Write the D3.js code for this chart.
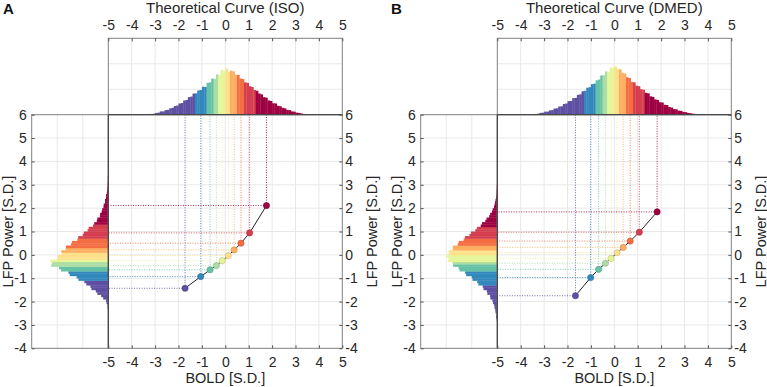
<!DOCTYPE html>
<html lang="en">
<head>
<meta charset="utf-8">
<script src="https://d3js.org/d3.v7.min.js"></script>
<style>
  body { margin: 0; background: #fff; }
  svg { font-family: "Liberation Sans", Arial, sans-serif; }
  .tick text { font-size: 14px; fill: #262626; }
  .axis path.domain { display: none; }
  .axis line { stroke: #555; }
</style>
</head>
<body>
<script>
// tick labels
var xTicks = [-5, -4, -3, -2, -1, 0, 1, 2, 3, 4, 5];
var yTicks = [-4, -3, -2, -1, 0, 1, 2, 3, 4, 5, 6];

// decile colours (low -> high)
var decileColors = ["#5e4fa2", "#3288bd", "#66c2a5", "#abdda4", "#e6f598",
                    "#fee08b", "#fdae61", "#f46d43", "#d53e4f", "#9e0142"];

// decile boundaries of the theoretical curve (top histograms)
var topBounds = [-1.28, -0.84, -0.52, -0.25, 0, 0.25, 0.52, 0.84, 1.28];
// decile boundaries of LFP power (left histograms)
var leftBoundsA = [-1.07, -0.72, -0.50, -0.33, -0.15, 0.07, 0.28, 0.71, 1.31];
var leftBoundsB = [-1.25, -0.72, -0.43, -0.25, -0.03, 0.21, 0.45, 0.71, 1.24];

// histogram bins: first bin centre, bin width 0.1
var binWidth = 0.1;
var topStart = -3.45;   // both top histograms
var leftStartA = -2.45;
var leftStartB = -2.95;

// top histogram heights, panel A (ISO)
var topHistA = [0.01,0.01,0.03,0.02,0.04,0.07,0.08,0.13,0.13,0.18,0.19,0.25,0.27,0.34,0.36,0.44,0.46,0.56,0.58,0.69,
  0.71,0.83,0.84,0.95,0.97,1.10,1.09,1.25,1.27,1.42,1.40,1.58,1.55,1.76,1.72,
  1.81,1.68,1.73,1.70,1.57,1.56,1.42,1.40,1.27,1.25,1.12,1.09,0.97,0.94,0.83,0.80,0.69,0.67,0.56,0.54,
  0.45,0.44,0.35,0.33,0.27,0.25,0.19,0.18,0.13,0.12,0.08,0.07,0.05,0.03,0.02];

// top histogram heights, panel B (DMED)
var topHistB = [0.01,0.03,0.04,0.07,0.08,0.12,0.12,0.17,0.18,0.24,0.25,0.32,0.33,0.42,0.44,0.53,0.54,0.65,0.66,0.78,
  0.80,0.92,0.94,1.06,1.08,1.20,1.22,1.35,1.38,1.54,1.55,1.70,1.69,1.85,1.84,
  1.90,1.79,1.78,1.64,1.62,1.47,1.44,1.29,1.27,1.14,1.12,1.00,0.98,0.86,0.84,0.72,0.70,0.60,0.58,0.49,
  0.48,0.39,0.38,0.30,0.28,0.22,0.21,0.16,0.15,0.11,0.10,0.07,0.06,0.04,0.03];

// left histogram lengths, panel A
var leftHistA = [0.00,0.01,0.03,0.03,0.07,0.09,0.20,0.28,0.43,0.49,0.66,0.70,0.86,0.94,1.17,1.24,1.51,1.56,1.85,1.93,
  2.24,2.20,2.26,1.98,1.97,1.82,1.84,1.67,1.66,1.46,1.42,1.21,1.18,1.00,0.96,0.81,0.77,0.60,0.55,0.45,
  0.43,0.33,0.32,0.26,0.24,0.19,0.18,0.13,0.13,0.09,0.09,0.06,0.05,0.04,0.03,0.03,0.02,0.02,0.02,0.01,
  0.01,0.01,0.01,0.01,0.00];

// left histogram lengths, panel B
var leftHistB = [0.01,0.01,0.03,0.05,0.04,0.07,0.08,0.11,0.12,0.17,0.19,0.27,0.28,0.39,0.41,0.54,0.57,0.74,0.79,0.97,
  1.00,1.22,1.26,1.48,1.52,1.73,1.75,1.93,1.90,1.99,1.89,1.91,1.74,1.74,1.55,1.51,1.32,1.27,1.09,1.03,
  0.86,0.80,0.65,0.60,0.47,0.42,0.32,0.28,0.21,0.18,0.13,0.11,0.09,0.07,0.05,0.04,0.03,0.03,0.02,0.02,
  0.01,0.01,0.01];

// decile means: BOLD (x) vs LFP power (y)
var boldA = [-1.72, -1.05, -0.65, -0.38, -0.13, 0.13, 0.38, 0.67, 1.04, 1.76];
var lfpA  = [-1.43, -0.93, -0.64, -0.46, -0.25, -0.03, 0.21, 0.50, 0.94, 2.11];
var boldB = [-1.66, -1.01, -0.67, -0.38, -0.14, 0.12, 0.38, 0.68, 1.07, 1.83];
var lfpB  = [-1.75, -0.97, -0.62, -0.36, -0.15, 0.09, 0.32, 0.59, 0.97, 1.84];

var w = 767, h = 387;

var svg = d3.select("body").append("svg")
    .attr("width", w)
    .attr("height", h);

// plain hyphen for negatives, like the original
var fmt = function(d) { return String(d); };

function drawPanel(offset, letter, title, topHist, leftHist, leftStart, leftBounds, xs, ys) {
    var g = svg.append("g").attr("transform", "translate(" + offset + ",0)");

    //Scales
    var xScale = d3.scaleLinear().domain([-5, 5]).range([108.3, 342.3]);
    var yScale = d3.scaleLinear().domain([-4, 6]).range([348.3, 114.7]);
    var topY = d3.scaleLinear().domain([0, 3]).range([114.7, 38.3]);
    var leftX = d3.scaleLinear().domain([0, 3]).range([108.3, 31.7]);

    var topColor = d3.scaleThreshold().domain(topBounds).range(decileColors);
    var leftColor = d3.scaleThreshold().domain(leftBounds).range(decileColors);

    var grid = g.append("g").attr("stroke", "#e8e8e8").attr("stroke-width", 1);

    // grids
    xTicks.slice(1, -1).forEach(function(t) {
        grid.append("line").attr("x1", xScale(t)).attr("x2", xScale(t))
            .attr("y1", yScale(6)).attr("y2", yScale(-4));
        grid.append("line").attr("x1", xScale(t)).attr("x2", xScale(t))
            .attr("y1", topY(3)).attr("y2", topY(0));
    });
    yTicks.slice(1, -1).forEach(function(t) {
        grid.append("line").attr("x1", xScale(-5)).attr("x2", xScale(5))
            .attr("y1", yScale(t)).attr("y2", yScale(t));
        grid.append("line").attr("x1", leftX(3)).attr("x2", leftX(0))
            .attr("y1", yScale(t)).attr("y2", yScale(t));
    });
    [1, 2].forEach(function(t) {
        grid.append("line").attr("x1", xScale(-5)).attr("x2", xScale(5))
            .attr("y1", topY(t)).attr("y2", topY(t));
        grid.append("line").attr("x1", leftX(t)).attr("x2", leftX(t))
            .attr("y1", yScale(6)).attr("y2", yScale(-4));
    });

    // top histogram
    g.append("g").selectAll("rect")
        .data(topHist)
        .enter()
        .append("rect")
        .attr("x", function(d, i) { return xScale(topStart + i * binWidth - binWidth / 2); })
        .attr("width", xScale(binWidth) - xScale(0) + 0.3)
        .attr("y", function(d) { return topY(d); })
        .attr("height", function(d) { return topY(0) - topY(d); })
        .attr("fill", function(d, i) { return topColor(topStart + i * binWidth); });

    // left histogram
    g.append("g").selectAll("rect")
        .data(leftHist)
        .enter()
        .append("rect")
        .attr("y", function(d, i) { return yScale(leftStart + i * binWidth + binWidth / 2); })
        .attr("height", yScale(0) - yScale(binWidth) + 0.3)
        .attr("x", function(d) { return leftX(d); })
        .attr("width", function(d) { return leftX(0) - leftX(d); })
        .attr("fill", function(d, i) { return leftColor(leftStart + i * binWidth); });

    var pts = xs.map(function(x, i) { return { x: x, y: ys[i], c: decileColors[i] }; });

    // dotted guide lines
    var guides = g.append("g").attr("stroke-width", 1).attr("stroke-dasharray", "1,1.5").attr("opacity", 0.85);
    guides.selectAll(".v").data(pts).enter().append("line")
        .attr("x1", function(d) { return xScale(d.x); })
        .attr("x2", function(d) { return xScale(d.x); })
        .attr("y1", function(d) { return yScale(d.y); })
        .attr("y2", yScale(6))
        .attr("stroke", function(d) { return d.c; });
    guides.selectAll(".h").data(pts).enter().append("line")
        .attr("y1", function(d) { return yScale(d.y); })
        .attr("y2", function(d) { return yScale(d.y); })
        .attr("x1", function(d) { return xScale(d.x); })
        .attr("x2", xScale(-5))
        .attr("stroke", function(d) { return d.c; });

    // boxes
    var box = g.append("g").attr("fill", "none").attr("stroke", "#808080").attr("stroke-width", 1);
    box.append("rect").attr("x", xScale(-5)).attr("y", topY(3))
        .attr("width", xScale(5) - xScale(-5)).attr("height", topY(0) - topY(3));
    box.append("rect").attr("x", leftX(3)).attr("y", yScale(6))
        .attr("width", leftX(0) - leftX(3)).attr("height", yScale(-4) - yScale(6));
    box.append("rect").attr("x", xScale(-5)).attr("y", yScale(6))
        .attr("width", xScale(5) - xScale(-5)).attr("height", yScale(-4) - yScale(6));
    // shared edges, drawn twice in the original
    box.append("line").attr("x1", xScale(-5)).attr("x2", xScale(-5))
        .attr("y1", topY(0)).attr("y2", yScale(-4)).attr("stroke", "#3a3a3a");
    box.append("line").attr("x1", xScale(-5)).attr("x2", xScale(5))
        .attr("y1", topY(0)).attr("y2", topY(0)).attr("stroke", "#3a3a3a");

    // connecting line and dots
    var line = d3.line()
        .x(function(d) { return xScale(d.x); })
        .y(function(d) { return yScale(d.y); });
    g.append("path").datum(pts)
        .attr("d", line)
        .attr("fill", "none")
        .attr("stroke", "#222")
        .attr("stroke-width", 1);
    g.append("g").selectAll("circle").data(pts).enter().append("circle")
        .attr("cx", function(d) { return xScale(d.x); })
        .attr("cy", function(d) { return yScale(d.y); })
        .attr("r", 3.1)
        .attr("fill", function(d) { return d.c; })
        .attr("stroke", function(d) { return d3.color(d.c).darker(0.6); })
        .attr("stroke-width", 0.6);

    //Axes
    g.append("g").attr("class", "axis")
        .attr("transform", "translate(0," + yScale(-4) + ")")
        .call(d3.axisBottom(xScale).tickValues(xTicks).tickFormat(fmt).tickSizeInner(-3).tickSizeOuter(0).tickPadding(9));
    g.append("g").attr("class", "axis")
        .attr("transform", "translate(0," + topY(3) + ")")
        .call(d3.axisTop(xScale).tickValues(xTicks).tickFormat(fmt).tickSizeInner(-3).tickSizeOuter(0).tickPadding(8));
    g.append("g").attr("class", "axis")
        .attr("transform", "translate(" + xScale(5) + ",0)")
        .call(d3.axisRight(yScale).tickValues(yTicks).tickFormat(fmt).tickSizeInner(-3).tickSizeOuter(0).tickPadding(3));
    g.append("g").attr("class", "axis")
        .attr("transform", "translate(" + leftX(3) + ",0)")
        .call(d3.axisLeft(yScale).tickValues(yTicks).tickFormat(fmt).tickSizeInner(-3).tickSizeOuter(0).tickPadding(5));
    g.selectAll(".axis .tick text").attr("fill", "#262626");

    // labels
    g.append("text").attr("x", 225.3).attr("y", 13)
        .attr("text-anchor", "middle").attr("font-size", "15px").attr("fill", "#262626")
        .text(title);
    g.append("text").attr("x", 225.3).attr("y", 383)
        .attr("text-anchor", "middle").attr("font-size", "14.5px").attr("fill", "#262626")
        .text("BOLD [S.D.]");
    g.append("text").attr("transform", "translate(12.5,231.5) rotate(-90)")
        .attr("text-anchor", "middle").attr("font-size", "14.5px").attr("fill", "#262626")
        .text("LFP Power [S.D.]");
    g.append("text").attr("transform", "translate(376.5,231.5) rotate(-90)")
        .attr("text-anchor", "middle").attr("font-size", "14.5px").attr("fill", "#262626")
        .text("LFP Power [S.D.]");
    g.append("text").attr("x", letter == "A" ? 3 : 2).attr("y", 13.5)
        .attr("font-size", "15px").attr("font-weight", "bold").attr("fill", "#111")
        .text(letter);
}

drawPanel(0, "A", "Theoretical Curve (ISO)", topHistA, leftHistA, leftStartA, leftBoundsA, boldA, lfpA);
drawPanel(389, "B", "Theoretical Curve (DMED)", topHistB, leftHistB, leftStartB, leftBoundsB, boldB, lfpB);
</script>
</body>
</html>
